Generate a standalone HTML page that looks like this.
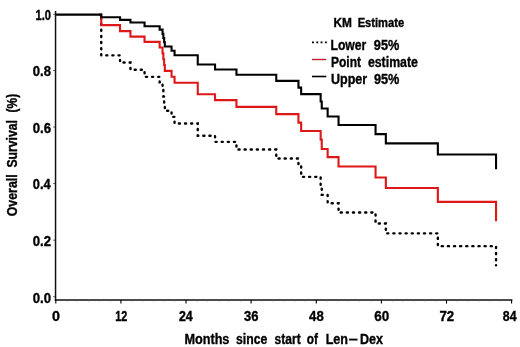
<!DOCTYPE html>
<html><head><meta charset="utf-8"><style>
html,body{margin:0;padding:0;background:#fff;}
svg{display:block;filter:blur(0.35px);}
text{font-family:"Liberation Sans",sans-serif;font-weight:bold;fill:#000;stroke:#000;stroke-width:0.35px;}
</style></head><body>
<svg width="520" height="347" viewBox="0 0 520 347">
<rect width="520" height="347" fill="#fff"/>
<g transform="translate(0.25,0.35)">
<path d="M99.0,14.3 L101.0,14.3 L101.0,55.0 L119.8,55.0 L119.8,62.2 L130.2,62.2 L130.2,69.4 L144.3,69.4 L144.3,76.5 L159.4,76.5 L159.4,82.0 L162.3,82.0 L162.3,89.1 L163.1,89.1 L163.1,96.2 L163.9,96.2 L163.9,103.3 L164.6,103.3 L164.6,110.4 L165.4,110.4 L171.3,110.4 L171.3,116.5 L174.3,116.5 L174.3,123.1 L197.5,123.1 L197.5,135.4 L214.8,135.4 L214.8,141.5 L236.2,141.5 L236.2,149.2 L276.0,149.2 L276.0,158.1 L298.2,158.1 L298.2,166.0 L300.9,166.0 L300.9,176.5 L320.4,176.5 L320.4,185.0 L321.5,185.0 L321.5,194.5 L327.4,194.5 L327.4,202.9 L338.3,202.9 L338.3,212.2 L375.3,212.2 L375.3,223.1 L385.6,223.1 L385.6,233.0 L437.6,233.0 L437.6,245.8 L495.8,245.8 L495.8,265.0" fill="none" stroke="#000" stroke-width="2.4" stroke-linecap="round" stroke-dasharray="1.1 5.02" stroke-dashoffset="1.276"/>
<path d="M99.0,14.3 L101.0,14.3 L101.0,24.8 L119.8,24.8 L119.8,30.8 L130.2,30.8 L130.2,36.3 L144.3,36.3 L144.3,41.5 L159.4,41.5 L159.4,47.2 L162.3,47.2 L162.3,53.0 L163.1,53.0 L163.1,58.9 L163.9,58.9 L163.9,64.7 L164.6,64.7 L164.6,70.5 L165.4,70.5 L171.3,70.5 L171.3,76.4 L174.3,76.4 L174.3,82.4 L197.5,82.4 L197.5,93.9 L214.8,93.9 L214.8,99.8 L236.2,99.8 L236.2,106.5 L276.0,106.5 L276.0,113.8 L298.2,113.8 L298.2,122.3 L300.9,122.3 L300.9,130.6 L320.4,130.6 L320.4,139.3 L321.5,139.3 L321.5,148.7 L327.4,148.7 L327.4,156.8 L338.3,156.8 L338.3,166.2 L375.3,166.2 L375.3,177.1 L385.6,177.1 L385.6,187.6 L437.6,187.6 L437.6,201.5 L495.8,201.5 L495.8,221.0" fill="none" stroke="#de1719" stroke-width="2.1"/>
<path d="M55.8,14.3 L101.0,14.3 L101.0,16.9 L119.8,16.9 L119.8,19.5 L130.2,19.5 L130.2,22.1 L144.3,22.1 L144.3,25.9 L159.4,25.9 L159.4,29.3 L162.3,29.3 L162.3,33.5 L163.1,33.5 L163.1,37.7 L163.9,37.7 L163.9,41.9 L164.6,41.9 L164.6,46.1 L165.4,46.1 L171.3,46.1 L171.3,50.4 L174.3,50.4 L174.3,54.9 L197.5,54.9 L197.5,64.1 L214.8,64.1 L214.8,69.2 L236.2,69.2 L236.2,74.4 L276.0,74.4 L276.0,80.5 L298.2,80.5 L298.2,87.3 L300.9,87.3 L300.9,93.8 L320.4,93.8 L320.4,101.2 L321.5,101.2 L321.5,108.1 L327.4,108.1 L327.4,116.1 L338.3,116.1 L338.3,124.6 L375.3,124.6 L375.3,133.8 L385.6,133.8 L385.6,143.0 L437.6,143.0 L437.6,154.2 L495.8,154.2 L495.8,169.0" fill="none" stroke="#000" stroke-width="2.1"/>
</g>
<line x1="55.55" y1="10.9" x2="55.55" y2="300.8" stroke="#111" stroke-width="1.5"/>
<line x1="54.8" y1="300.0" x2="512.4" y2="300.0" stroke="#111" stroke-width="1.55"/>
<line x1="55.8" y1="300" x2="55.8" y2="303.6" stroke="#000" stroke-width="1.1"/><line x1="66.7" y1="300" x2="66.7" y2="301.4" stroke="#666" stroke-width="0.8"/><line x1="77.5" y1="300" x2="77.5" y2="301.4" stroke="#666" stroke-width="0.8"/><line x1="88.4" y1="300" x2="88.4" y2="301.4" stroke="#666" stroke-width="0.8"/><line x1="99.2" y1="300" x2="99.2" y2="301.4" stroke="#666" stroke-width="0.8"/><line x1="110.1" y1="300" x2="110.1" y2="301.4" stroke="#666" stroke-width="0.8"/><line x1="120.9" y1="300" x2="120.9" y2="303.6" stroke="#000" stroke-width="1.1"/><line x1="131.8" y1="300" x2="131.8" y2="301.4" stroke="#666" stroke-width="0.8"/><line x1="142.6" y1="300" x2="142.6" y2="301.4" stroke="#666" stroke-width="0.8"/><line x1="153.5" y1="300" x2="153.5" y2="301.4" stroke="#666" stroke-width="0.8"/><line x1="164.3" y1="300" x2="164.3" y2="301.4" stroke="#666" stroke-width="0.8"/><line x1="175.2" y1="300" x2="175.2" y2="301.4" stroke="#666" stroke-width="0.8"/><line x1="186.0" y1="300" x2="186.0" y2="303.6" stroke="#000" stroke-width="1.1"/><line x1="196.9" y1="300" x2="196.9" y2="301.4" stroke="#666" stroke-width="0.8"/><line x1="207.7" y1="300" x2="207.7" y2="301.4" stroke="#666" stroke-width="0.8"/><line x1="218.6" y1="300" x2="218.6" y2="301.4" stroke="#666" stroke-width="0.8"/><line x1="229.4" y1="300" x2="229.4" y2="301.4" stroke="#666" stroke-width="0.8"/><line x1="240.3" y1="300" x2="240.3" y2="301.4" stroke="#666" stroke-width="0.8"/><line x1="251.1" y1="300" x2="251.1" y2="303.6" stroke="#000" stroke-width="1.1"/><line x1="262.0" y1="300" x2="262.0" y2="301.4" stroke="#666" stroke-width="0.8"/><line x1="272.8" y1="300" x2="272.8" y2="301.4" stroke="#666" stroke-width="0.8"/><line x1="283.7" y1="300" x2="283.7" y2="301.4" stroke="#666" stroke-width="0.8"/><line x1="294.6" y1="300" x2="294.6" y2="301.4" stroke="#666" stroke-width="0.8"/><line x1="305.4" y1="300" x2="305.4" y2="301.4" stroke="#666" stroke-width="0.8"/><line x1="316.3" y1="300" x2="316.3" y2="303.6" stroke="#000" stroke-width="1.1"/><line x1="327.1" y1="300" x2="327.1" y2="301.4" stroke="#666" stroke-width="0.8"/><line x1="338.0" y1="300" x2="338.0" y2="301.4" stroke="#666" stroke-width="0.8"/><line x1="348.8" y1="300" x2="348.8" y2="301.4" stroke="#666" stroke-width="0.8"/><line x1="359.7" y1="300" x2="359.7" y2="301.4" stroke="#666" stroke-width="0.8"/><line x1="370.5" y1="300" x2="370.5" y2="301.4" stroke="#666" stroke-width="0.8"/><line x1="381.4" y1="300" x2="381.4" y2="303.6" stroke="#000" stroke-width="1.1"/><line x1="392.2" y1="300" x2="392.2" y2="301.4" stroke="#666" stroke-width="0.8"/><line x1="403.1" y1="300" x2="403.1" y2="301.4" stroke="#666" stroke-width="0.8"/><line x1="413.9" y1="300" x2="413.9" y2="301.4" stroke="#666" stroke-width="0.8"/><line x1="424.8" y1="300" x2="424.8" y2="301.4" stroke="#666" stroke-width="0.8"/><line x1="435.6" y1="300" x2="435.6" y2="301.4" stroke="#666" stroke-width="0.8"/><line x1="446.5" y1="300" x2="446.5" y2="303.6" stroke="#000" stroke-width="1.1"/><line x1="457.3" y1="300" x2="457.3" y2="301.4" stroke="#666" stroke-width="0.8"/><line x1="468.2" y1="300" x2="468.2" y2="301.4" stroke="#666" stroke-width="0.8"/><line x1="479.0" y1="300" x2="479.0" y2="301.4" stroke="#666" stroke-width="0.8"/><line x1="489.9" y1="300" x2="489.9" y2="301.4" stroke="#666" stroke-width="0.8"/><line x1="500.7" y1="300" x2="500.7" y2="301.4" stroke="#666" stroke-width="0.8"/><line x1="511.6" y1="300" x2="511.6" y2="303.6" stroke="#000" stroke-width="1.1"/>
<line x1="53.2" y1="296.7" x2="55" y2="296.7" stroke="#444" stroke-width="0.9"/><line x1="53.2" y1="240.2" x2="55" y2="240.2" stroke="#444" stroke-width="0.9"/><line x1="53.2" y1="183.5" x2="55" y2="183.5" stroke="#444" stroke-width="0.9"/><line x1="53.2" y1="127.0" x2="55" y2="127.0" stroke="#444" stroke-width="0.9"/><line x1="53.2" y1="70.5" x2="55" y2="70.5" stroke="#444" stroke-width="0.9"/><line x1="53.2" y1="14.3" x2="55" y2="14.3" stroke="#444" stroke-width="0.9"/>
<text x="51.98" y="320.80" textLength="7.95" lengthAdjust="spacingAndGlyphs" style="font-size:14.0px">0</text><text x="115.21" y="320.80" textLength="12.12" lengthAdjust="spacingAndGlyphs" style="font-size:14.0px">12</text><text x="178.97" y="320.80" textLength="13.80" lengthAdjust="spacingAndGlyphs" style="font-size:14.0px">24</text><text x="244.00" y="320.80" textLength="14.47" lengthAdjust="spacingAndGlyphs" style="font-size:14.0px">36</text><text x="309.10" y="320.80" textLength="14.60" lengthAdjust="spacingAndGlyphs" style="font-size:14.0px">48</text><text x="374.21" y="320.80" textLength="14.94" lengthAdjust="spacingAndGlyphs" style="font-size:14.0px">60</text><text x="439.43" y="320.80" textLength="14.70" lengthAdjust="spacingAndGlyphs" style="font-size:14.0px">72</text><text x="502.81" y="320.80" textLength="13.76" lengthAdjust="spacingAndGlyphs" style="font-size:14.0px">84</text><text x="32.78" y="302.60" textLength="18.36" lengthAdjust="spacingAndGlyphs" style="font-size:14.0px">0.0</text><text x="32.78" y="246.10" textLength="18.35" lengthAdjust="spacingAndGlyphs" style="font-size:14.0px">0.2</text><text x="32.79" y="189.40" textLength="17.88" lengthAdjust="spacingAndGlyphs" style="font-size:14.0px">0.4</text><text x="32.78" y="132.90" textLength="18.30" lengthAdjust="spacingAndGlyphs" style="font-size:14.0px">0.6</text><text x="32.78" y="76.40" textLength="18.22" lengthAdjust="spacingAndGlyphs" style="font-size:14.0px">0.8</text><text x="35.49" y="20.20" textLength="15.56" lengthAdjust="spacingAndGlyphs" style="font-size:14.0px">1.0</text><text x="184.45" y="344.20" textLength="44.97" lengthAdjust="spacingAndGlyphs" style="font-size:14.0px">Months</text><text x="236.07" y="344.20" textLength="31.25" lengthAdjust="spacingAndGlyphs" style="font-size:14.0px">since</text><text x="274.58" y="344.20" textLength="26.07" lengthAdjust="spacingAndGlyphs" style="font-size:14.0px">start</text><text x="306.83" y="344.20" textLength="11.24" lengthAdjust="spacingAndGlyphs" style="font-size:14.0px">of</text><text x="325.66" y="344.20" textLength="22.32" lengthAdjust="spacingAndGlyphs" style="font-size:14.0px">Len</text><text x="348.81" y="344.20" textLength="8.99" lengthAdjust="spacingAndGlyphs" style="font-size:14.0px">–</text><text x="359.96" y="344.20" textLength="23.03" lengthAdjust="spacingAndGlyphs" style="font-size:14.0px">Dex</text><text x="333.40" y="26.90" textLength="18.49" lengthAdjust="spacingAndGlyphs" style="font-size:12.6px">KM</text><text x="357.65" y="26.90" textLength="46.53" lengthAdjust="spacingAndGlyphs" style="font-size:12.6px">Estimate</text><text x="330.49" y="50.30" textLength="35.80" lengthAdjust="spacingAndGlyphs" style="font-size:14.0px">Lower</text><text x="373.86" y="50.30" textLength="25.48" lengthAdjust="spacingAndGlyphs" style="font-size:14.0px">95%</text><text x="331.00" y="67.30" textLength="29.95" lengthAdjust="spacingAndGlyphs" style="font-size:14.0px">Point</text><text x="367.92" y="67.30" textLength="50.00" lengthAdjust="spacingAndGlyphs" style="font-size:14.0px">estimate</text><text x="331.05" y="84.30" textLength="36.14" lengthAdjust="spacingAndGlyphs" style="font-size:14.0px">Upper</text><text x="373.96" y="84.30" textLength="25.48" lengthAdjust="spacingAndGlyphs" style="font-size:14.0px">95%</text>
<g transform="translate(16.9,0) rotate(-90)"><text x="-216.31" y="0.00" textLength="41.98" lengthAdjust="spacingAndGlyphs" style="font-size:14.0px">Overall</text><text x="-167.55" y="0.00" textLength="47.52" lengthAdjust="spacingAndGlyphs" style="font-size:14.0px">Survival</text><text x="-112.39" y="0.00" textLength="18.48" lengthAdjust="spacingAndGlyphs" style="font-size:14.0px">(%)</text></g>
<line x1="312" y1="42.3" x2="327" y2="42.3" stroke="#000" stroke-width="1.7" stroke-dasharray="1.9 2.4"/>
<line x1="312" y1="59.5" x2="326.3" y2="59.5" stroke="#c42032" stroke-width="1.4"/>
<line x1="312" y1="76.5" x2="326.3" y2="76.5" stroke="#000" stroke-width="1.6"/>
</svg>
</body></html>
